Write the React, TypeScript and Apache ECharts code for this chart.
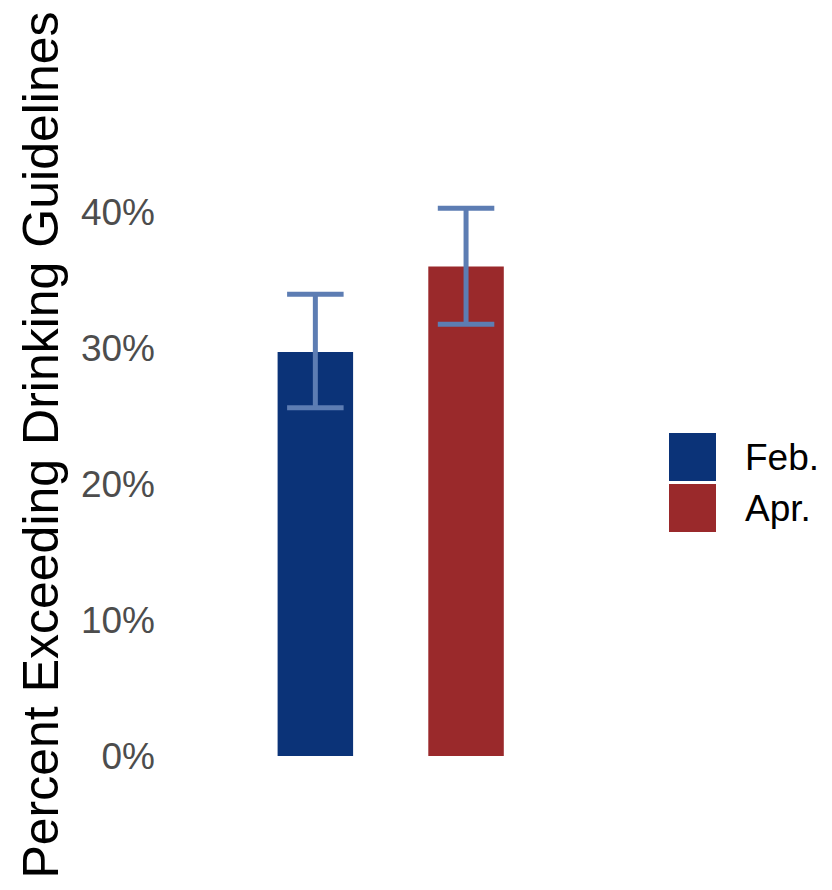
import React, { useEffect, useRef } from "react";
import * as echarts from "echarts";

const months = ["Feb.", "Apr."];
const percentValues = [29.7, 36.0];
const errorLow = [25.6, 31.75];
const errorHigh = [33.95, 40.27];
const yTicks = [0, 10, 20, 30, 40];
const barColors = ["#0b3378", "#9a292b"];
const errorColor = "#5d7db3";
const FONT = "'Liberation Sans', Arial, sans-serif";

export default function App() {
  const ref = useRef<HTMLDivElement>(null);
  useEffect(() => {
    if (!ref.current) return;
    const chart = echarts.init(ref.current, undefined, { renderer: "svg" });
    const barSeries = months.map((m, i) => ({
      name: m,
      type: "bar",
      barWidth: 75.5,
      barGap: "-100%",
      itemStyle: { color: barColors[i] },
      data: months.map((_, j) => (j === i ? percentValues[i] : "-")),
      z: 2,
    }));
    const errData = months.map((_, i) => [i, errorLow[i], errorHigh[i]]);
    chart.setOption({
      animation: false,
      backgroundColor: "#ffffff",
      grid: { left: 240, width: 301.4, top: 184.8, height: 571.2 },
      legend: {
        orient: "vertical",
        left: 664,
        top: 428,
        itemWidth: 47,
        itemHeight: 48,
        itemGap: 3,
        icon: "rect",
        data: months,
        textStyle: { fontFamily: FONT, fontSize: 37, color: "#000000", padding: [0, 0, 0, 24] },
      },
      xAxis: {
        type: "category",
        data: months,
        axisLine: { show: false },
        axisTick: { show: false },
        axisLabel: { show: false },
        splitLine: { show: false },
      },
      yAxis: {
        type: "value",
        min: 0,
        max: 42,
        interval: 10,
        axisLine: { show: false },
        axisTick: { show: false },
        splitLine: { show: false },
        axisLabel: {
          margin: 85,
          fontFamily: FONT,
          fontSize: 37,
          color: "#4d4d4d",
          formatter: (v: number) => (yTicks.includes(v) ? v + "%" : ""),
        },
      },
      graphic: [
        {
          type: "text",
          x: 41,
          y: 445,
          rotation: Math.PI / 2,
          style: {
            text: "Percent Exceeding Drinking Guidelines",
            fontFamily: FONT,
            fontSize: 50,
            fill: "#000000",
            textAlign: "center",
            textVerticalAlign: "middle",
          },
        },
      ],
      series: [
        ...barSeries,
        {
          type: "custom",
          name: "error",
          data: errData,
          z: 5,
          renderItem: (params: any, api: any) => {
            const x = api.value(0);
            const lo = api.coord([x, api.value(1)]);
            const hi = api.coord([x, api.value(2)]);
            const half = api.size([1, 0])[0] * 0.1875;
            const style = { stroke: errorColor, lineWidth: 5 };
            return {
              type: "group",
              children: [
                { type: "line", shape: { x1: hi[0], y1: hi[1], x2: lo[0], y2: lo[1] }, style },
                { type: "line", shape: { x1: hi[0] - half, y1: hi[1], x2: hi[0] + half, y2: hi[1] }, style },
                { type: "line", shape: { x1: lo[0] - half, y1: lo[1], x2: lo[0] + half, y2: lo[1] }, style },
              ],
            };
          },
        },
      ],
    });
    return () => chart.dispose();
  }, []);
  return (
    <div
      ref={ref}
      style={{ position: "fixed", left: 0, top: 0, width: 832, height: 890, background: "#fff" }}
    />
  );
}
